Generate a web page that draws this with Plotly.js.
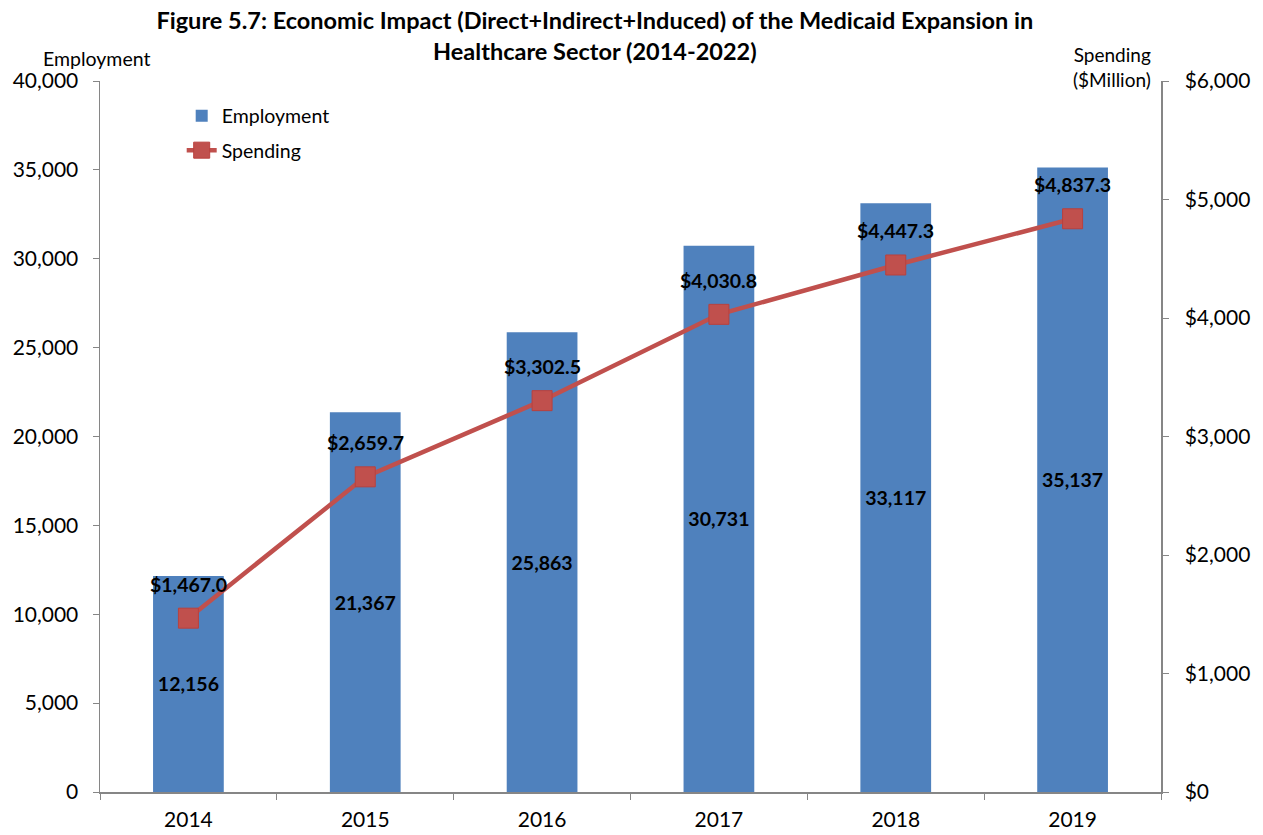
<!DOCTYPE html>
<html><head><meta charset="utf-8">
<script src="https://cdn.plot.ly/plotly-3.0.1.min.js"></script>
<style>body{margin:0;background:#fff}#c{width:1263px;height:835px}</style>
</head><body><div id="c"></div>
<script>
const years = ['2014','2015','2016','2017','2018','2019'];
const employment = [12156, 21367, 25863, 30731, 33117, 35137];
const spending = [1467.0, 2659.7, 3302.5, 4030.8, 4447.3, 4837.3];
const empTicks = [0,5000,10000,15000,20000,25000,30000,35000,40000];
const spTicks = [0,1000,2000,3000,4000,5000,6000];

const F = 'Lato, "Liberation Sans", sans-serif';
const fmtEmp = v => v.toLocaleString('en-US');
const fmtSp = v => '$' + v.toLocaleString('en-US',{minimumFractionDigits:1,maximumFractionDigits:1});

const bars = {
  type:'bar', name:'Employment', legendgroup:'emp', x:years, y:employment, width:0.4,
  marker:{color:'#4F81BD'},
  text: employment.map(fmtEmp), textposition:'inside', insidetextanchor:'middle',
  textfont:{family:F, size:19.5, color:'#000', weight:'bold'}, textangle:0,
  hoverinfo:'x+y'
};
const line = {
  type:'scatter', mode:'lines+markers', name:'Spending', legendgroup:'sp', x:years, y:spending, yaxis:'y2',
  line:{color:'#C0504D', width:4.5},
  marker:{symbol:'square', size:20, color:'#C0504D', line:{color:'#B9413E', width:1}}
};
const annotations = spending.map((v,i)=>({
  x:i, y:v, xref:'x', yref:'y2', text:fmtSp(v), showarrow:false,
  yshift:34, font:{family:F, size:19.5, color:'#000', weight:'bold'}
}));
annotations.push({xref:'paper', yref:'paper', x:0.049, y:1.0, yshift:23, xanchor:'right', yanchor:'middle',
  text:'Employment', showarrow:false, font:{family:F, size:19.5, color:'#000'}});
annotations.push({xref:'paper', yref:'paper', x:-0.008, y:1.0, xshift:1061, yshift:14, xanchor:'right', yanchor:'middle',
  align:'right', text:'Spending<br>($Million)', showarrow:false, font:{family:F, size:19, color:'#000'}});

const layout = {
  width:1263, height:835,
  margin:{l:100, r:102, t:81, b:43},
  paper_bgcolor:'#fff', plot_bgcolor:'#fff',
  font:{family:F, color:'#000'},
  title:{text:'<b>Figure 5.7: Economic Impact (Direct+Indirect+Induced) of the Medicaid Expansion in<br>Healthcare Sector (2014-2022)</b>',
    x:0.471, xanchor:'center', y:0.965, yanchor:'middle', font:{family:F, size:23.5, color:'#000'}},
  xaxis:{type:'category', range:[-0.5,5.5], showline:true, linecolor:'#868686', linewidth:1.5,
    ticks:'outside', tickson:'boundaries', ticklen:6, tickcolor:'#868686', ticklabelstandoff:8,
    tickfont:{family:F, size:21}, showgrid:false, zeroline:false, fixedrange:true},
  yaxis:{range:[0,40000], tickvals:empTicks, ticktext:empTicks.map(fmtEmp),
    showline:true, linecolor:'#868686', linewidth:1.5, ticks:'outside', ticklen:6, tickcolor:'#868686',
    ticklabelstandoff:10, tickfont:{family:F, size:21}, showgrid:false, zeroline:false},
  yaxis2:{range:[0,6000], overlaying:'y', side:'right', tickvals:spTicks,
    ticktext:spTicks.map(v=>'$'+v.toLocaleString('en-US')),
    showline:true, linecolor:'#868686', linewidth:1.5, ticks:'outside', ticklen:6, tickcolor:'#868686',
    ticklabelstandoff:12, tickfont:{family:F, size:21}, showgrid:false, zeroline:false},
  legend:{x:0.077, y:0.978, xanchor:'left', yanchor:'top', bgcolor:'rgba(0,0,0,0)',
    font:{family:F, size:19.5}, tracegroupgap:6},
  showlegend:true,
  annotations:annotations
};
Plotly.newPlot('c',[bars,line],layout,{displayModeBar:false,staticPlot:true});
</script></body></html>
